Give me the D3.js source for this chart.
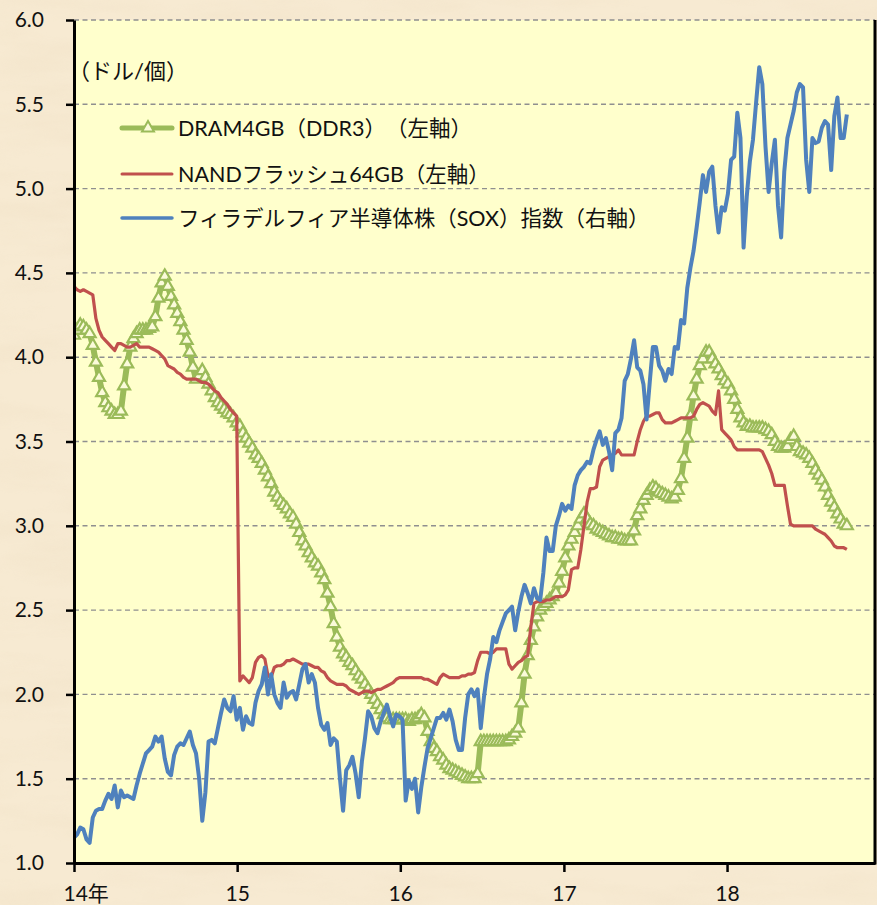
<!DOCTYPE html>
<html>
<head>
<meta charset="utf-8">
<script src="https://cdn.jsdelivr.net/npm/d3@7/dist/d3.min.js"></script>
<style>
  html, body { margin: 0; padding: 0; background: #f5e6c9; }
  svg { display: block; }
</style>
</head>
<body>
<svg id="chart" width="877" height="905"></svg>
<script>
// Weekly observations starting from the first week of 2014
const startDate = new Date(2014, 0, 1);

// DRAM 4GB (DDR3) spot price, US$ per unit (left axis)
const dram = [
  4.13,4.16,4.19,4.18,4.16,4.14,4.07,3.97,3.88,3.79,
  3.73,3.70,3.68,3.66,3.66,3.68,3.83,3.96,4.06,4.11,
  4.14,4.16,4.16,4.16,4.17,4.18,4.24,4.35,4.44,4.48,
  4.42,4.36,4.31,4.26,4.21,4.16,4.10,4.03,3.94,3.87,
  3.89,3.92,3.88,3.84,3.80,3.76,3.73,3.71,3.69,3.67,
  3.66,3.64,3.61,3.59,3.55,3.52,3.49,3.46,3.42,3.40,
  3.37,3.33,3.29,3.25,3.20,3.17,3.14,3.12,3.10,3.07,
  3.05,3.01,2.96,2.91,2.88,2.84,2.81,2.78,2.76,2.72,
  2.68,2.60,2.52,2.42,2.34,2.28,2.24,2.22,2.19,2.17,
  2.14,2.11,2.09,2.06,2.03,2.00,1.97,1.94,1.91,1.88,
  1.86,1.85,1.85,1.85,1.85,1.85,1.85,1.84,1.85,1.85,
  1.86,1.88,1.86,1.78,1.72,1.68,1.66,1.63,1.61,1.58,
  1.56,1.55,1.54,1.53,1.52,1.51,1.50,1.50,1.50,1.53,
  1.72,1.72,1.72,1.72,1.72,1.72,1.72,1.72,1.72,1.73,
  1.75,1.77,1.80,1.95,2.12,2.23,2.32,2.40,2.46,2.50,
  2.52,2.54,2.56,2.58,2.60,2.66,2.73,2.81,2.88,2.92,
  2.96,3.00,3.04,3.07,3.04,3.01,3.00,2.98,2.97,2.96,
  2.95,2.94,2.93,2.93,2.92,2.92,2.91,2.91,2.91,2.97,
  3.06,3.10,3.15,3.18,3.21,3.23,3.22,3.20,3.19,3.18,
  3.17,3.16,3.17,3.21,3.28,3.40,3.52,3.65,3.77,3.87,
  3.95,3.99,4.03,4.03,3.99,3.96,3.93,3.89,3.86,3.84,
  3.80,3.75,3.69,3.64,3.61,3.59,3.59,3.58,3.58,3.58,
  3.58,3.57,3.56,3.54,3.50,3.47,3.46,3.46,3.47,3.51,
  3.53,3.47,3.44,3.43,3.42,3.40,3.37,3.33,3.30,3.27,
  3.23,3.18,3.14,3.11,3.07,3.04,3.01,3.00
];

// NAND flash 64GB spot price, US$ per unit (left axis)
const nand = [
  4.42,4.40,4.39,4.40,4.39,4.38,4.37,4.23,4.16,4.12,
  4.10,4.08,4.06,4.04,4.08,4.08,4.07,4.06,4.06,4.07,
  4.08,4.06,4.06,4.06,4.06,4.05,4.04,4.03,4.01,3.99,
  3.95,3.94,3.93,3.91,3.90,3.88,3.87,3.87,3.87,3.87,
  3.86,3.85,3.85,3.84,3.82,3.80,3.79,3.76,3.74,3.72,
  3.69,3.67,3.65,2.08,2.11,2.09,2.07,2.10,2.19,2.22,
  2.23,2.21,2.11,2.10,2.16,2.17,2.17,2.18,2.20,2.20,
  2.21,2.20,2.19,2.18,2.18,2.18,2.17,2.16,2.16,2.14,
  2.13,2.10,2.08,2.07,2.06,2.06,2.06,2.05,2.03,2.02,
  2.01,2.00,2.01,2.02,2.02,2.01,2.02,2.03,2.03,2.04,
  2.05,2.06,2.07,2.09,2.10,2.10,2.10,2.10,2.10,2.10,
  2.10,2.10,2.09,2.09,2.08,2.07,2.06,2.10,2.12,2.11,
  2.10,2.10,2.10,2.10,2.11,2.11,2.12,2.12,2.13,2.20,
  2.25,2.25,2.25,2.24,2.25,2.27,2.27,2.27,2.27,2.18,
  2.15,2.17,2.19,2.20,2.22,2.23,2.40,2.54,2.55,2.55,
  2.55,2.56,2.56,2.57,2.58,2.58,2.58,2.59,2.62,2.74,
  2.75,2.75,2.86,3.00,3.14,3.22,3.22,3.23,3.35,3.39,
  3.40,3.41,3.42,3.43,3.45,3.42,3.42,3.42,3.42,3.42,
  3.50,3.57,3.62,3.65,3.65,3.66,3.67,3.67,3.63,3.61,
  3.61,3.61,3.62,3.63,3.64,3.64,3.64,3.64,3.65,3.69,
  3.72,3.73,3.72,3.71,3.68,3.66,3.80,3.57,3.55,3.53,
  3.51,3.47,3.45,3.45,3.45,3.45,3.45,3.45,3.45,3.45,
  3.44,3.40,3.36,3.31,3.24,3.24,3.24,3.24,3.12,3.01,
  3.00,3.00,3.00,3.00,3.00,3.00,3.00,2.98,2.97,2.96,
  2.95,2.93,2.91,2.88,2.87,2.87,2.87,2.86
];

// Philadelphia Semiconductor Index (SOX), right axis
const sox = [
  530,534,542,540,528,524,554,562,564,564,
  574,582,576,592,566,586,578,580,578,576,
  592,606,618,630,634,638,650,644,650,624,
  608,604,628,638,642,640,648,656,640,630,
  600,550,584,644,646,642,660,678,694,684,
  680,698,670,684,658,674,666,664,690,704,
  712,732,700,724,700,690,684,714,696,702,
  704,694,712,730,736,714,724,714,684,664,
  658,666,640,648,644,600,562,610,616,626,
  606,578,620,648,680,674,660,654,668,678,
  688,674,662,676,674,670,574,598,588,600,
  560,590,614,636,648,660,672,672,678,670,
  682,668,646,634,634,672,700,706,698,706,
  660,696,724,742,768,762,776,786,796,800,
  804,776,798,816,830,820,808,826,814,812,
  844,886,870,870,900,912,926,918,924,920,
  948,960,966,970,976,974,990,1002,1012,996,
  1004,988,966,1010,1014,1028,1072,1080,1098,1120,
  1088,1084,1068,1026,1070,1112,1112,1090,1084,1072,
  1086,1080,1112,1110,1144,1140,1182,1206,1226,1254,
  1284,1316,1296,1320,1326,1280,1248,1278,1274,1294,
  1334,1338,1390,1360,1230,1290,1332,1358,1402,1444,
  1424,1350,1296,1330,1358,1280,1242,1320,1360,1376,
  1392,1414,1424,1420,1334,1296,1360,1354,1356,1372,
  1380,1376,1322,1386,1408,1360,1360,1388
];

const leftTicks = [1.0, 1.5, 2.0, 2.5, 3.0, 3.5, 4.0, 4.5, 5.0, 5.5, 6.0];
const yearTicks = [2014, 2015, 2016, 2017, 2018];
const yearLabels = ["14年", "15", "16", "17", "18"];
const unitLabel = "（ドル/個）";
const seriesNames = [
  "DRAM4GB（DDR3）　（左軸）",
  "NANDフラッシュ64GB（左軸）",
  "フィラデルフィア半導体株（SOX）指数（右軸）"
];
const seriesColors = ["#9BBB59", "#C0504D", "#4F81BD"];

// ---- layout ----
const W = 877, H = 905;
const plot = { left: 74, right: 875, top: 20, bottom: 863 };
const FONT = "Lato, 'Noto Sans CJK JP', sans-serif";

const svg = d3.select("#chart");
const defs = svg.append("defs");

// mottled parchment backdrop
const paper = defs.append("filter").attr("id", "paper")
  .attr("x", 0).attr("y", 0).attr("width", "100%").attr("height", "100%");
paper.append("feTurbulence").attr("type", "fractalNoise")
  .attr("baseFrequency", "0.008 0.035").attr("numOctaves", 4).attr("seed", 7).attr("result", "noise");
paper.append("feColorMatrix").attr("in", "noise").attr("type", "matrix")
  .attr("values", "0 0 0 0 0.86  0 0 0 0 0.74  0 0 0 0 0.55  1.5 0 0 0 -0.62");

svg.append("rect").attr("width", W).attr("height", H).attr("fill", "#f7ead2");
svg.append("rect").attr("width", W).attr("height", H).attr("filter", "url(#paper)").attr("opacity", 0.55);

// scales
const x = d3.scaleTime()
  .domain([new Date(2014, 0, 1), new Date(2018, 10, 28)])
  .range([plot.left, plot.right]);
const yL = d3.scaleLinear().domain([1, 6]).range([plot.bottom, plot.top]);
const yR = d3.scaleLinear().domain([500, 1500]).range([plot.bottom, plot.top]);

const dates = d3.range(dram.length).map(i => d3.timeDay.offset(startDate, 7 * i));

// plot area
svg.append("rect")
  .attr("x", plot.left).attr("y", plot.top)
  .attr("width", plot.right - plot.left).attr("height", plot.bottom - plot.top)
  .attr("fill", "#FFFFCC");

// dashed gridlines
svg.append("g").selectAll("line")
  .data(leftTicks.filter(v => v > 1))
  .join("line")
  .attr("x1", plot.left).attr("x2", plot.right)
  .attr("y1", d => yL(d)).attr("y2", d => yL(d))
  .attr("stroke", "#8f8f8f").attr("stroke-width", 1.4)
  .attr("stroke-dasharray", "5,3.5");

// series
const clip = defs.append("clipPath").attr("id", "plotClip");
clip.append("rect").attr("x", plot.left).attr("y", plot.top - 5)
  .attr("width", plot.right - plot.left).attr("height", plot.bottom - plot.top + 5);

const gSeries = svg.append("g").attr("clip-path", "url(#plotClip)");

const lineL = d3.line().x((d, i) => x(dates[i])).y(d => yL(d));
const lineR = d3.line().x((d, i) => x(dates[i])).y(d => yR(d));

const tri = d3.symbol().type(d3.symbolTriangle).size(62);

// DRAM: thick line with triangle markers
gSeries.append("path").datum(dram)
  .attr("d", lineL).attr("fill", "none")
  .attr("stroke", seriesColors[0]).attr("stroke-width", 6)
  .attr("stroke-linejoin", "round");
gSeries.append("g").selectAll("path")
  .data(dram)
  .join("path")
  .attr("d", tri)
  .attr("transform", (d, i) => `translate(${x(dates[i])},${yL(d)})`)
  .attr("fill", "#FBFBDA")
  .attr("stroke", seriesColors[0]).attr("stroke-width", 2.2);

// NAND
gSeries.append("path").datum(nand)
  .attr("d", lineL).attr("fill", "none")
  .attr("stroke", seriesColors[1]).attr("stroke-width", 3.2)
  .attr("stroke-linejoin", "round");

// SOX on the right-hand scale
gSeries.append("path").datum(sox)
  .attr("d", lineR).attr("fill", "none")
  .attr("stroke", seriesColors[2]).attr("stroke-width", 4)
  .attr("stroke-linejoin", "round");

// axes
const axisLeft = d3.axisLeft(yL)
  .tickValues(leftTicks)
  .tickFormat(d3.format(".1f"))
  .tickSize(8).tickSizeOuter(0).tickPadding(22);
const gy = svg.append("g").attr("transform", `translate(${plot.left},0)`).call(axisLeft);
gy.select(".domain").attr("stroke", "#000").attr("stroke-width", 3);
gy.selectAll(".tick line").attr("stroke", "#000").attr("stroke-width", 2.5);
gy.selectAll(".tick text")
  .attr("font-family", FONT).attr("font-size", 21).attr("fill", "#111");

const axisBottom = d3.axisBottom(x)
  .tickValues(yearTicks.map(yv => new Date(yv, 0, 1)))
  .tickFormat((d, i) => yearLabels[i])
  .tickSize(9).tickSizeOuter(0);
const gx = svg.append("g").attr("transform", `translate(0,${plot.bottom})`).call(axisBottom);
gx.select(".domain").attr("stroke", "#000").attr("stroke-width", 3);
gx.selectAll(".tick line").attr("stroke", "#000").attr("stroke-width", 2.5);
gx.selectAll(".tick text")
  .attr("font-family", FONT).attr("font-size", 21).attr("fill", "#111")
  .attr("y", 38).attr("dy", 0)
  .attr("text-anchor", (d, i) => i === 0 ? "start" : "middle")
  .attr("dx", (d, i) => i === 0 ? -11 : 0);

// right border of the plot area
svg.append("line")
  .attr("x1", plot.right).attr("x2", plot.right)
  .attr("y1", plot.top).attr("y2", plot.bottom + 1.5)
  .attr("stroke", "#000").attr("stroke-width", 3);

// unit label
svg.append("text")
  .attr("x", 68).attr("y", 79)
  .attr("font-family", FONT).attr("font-size", 22).attr("fill", "#111")
  .text(unitLabel);

// legend
const legendRows = [128, 174, 218];
const legendWidths = [5, 3, 3.5];
const gLeg = svg.append("g");
seriesNames.forEach((name, i) => {
  const yy = legendRows[i];
  gLeg.append("line")
    .attr("x1", 122).attr("x2", 172).attr("y1", yy).attr("y2", yy)
    .attr("stroke", seriesColors[i]).attr("stroke-width", legendWidths[i])
    .attr("stroke-linecap", "round");
  if (i === 0) {
    gLeg.append("path").attr("d", tri)
      .attr("transform", `translate(148,${yy})`)
      .attr("fill", "#FBFBDA").attr("stroke", seriesColors[0]).attr("stroke-width", 2);
  }
  gLeg.append("text")
    .attr("x", 178).attr("y", yy).attr("dy", "0.36em")
    .attr("font-family", FONT).attr("font-size", 21.5).attr("fill", "#111")
    .text(name);
});
</script>
</body>
</html>
